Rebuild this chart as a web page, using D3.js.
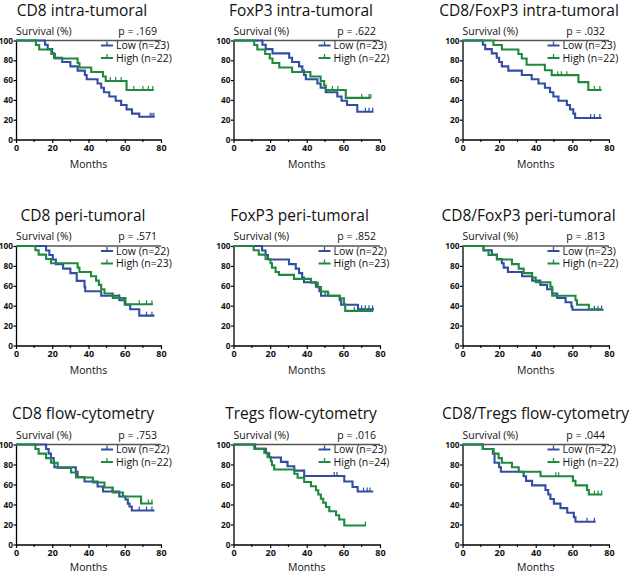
<!DOCTYPE html>
<html><head><meta charset="utf-8">
<script src="https://cdn.jsdelivr.net/npm/d3@7"></script>
<style>
body{margin:0;background:#fff}
svg{display:block}
text{font-family:"Open Sans",sans-serif;fill:#111}
</style>
</head><body>
<svg id="chart" width="633" height="574"></svg>
<script>
// ---------- data ----------
const titles = ["CD8 intra-tumoral","FoxP3 intra-tumoral","CD8/FoxP3 intra-tumoral",
  "CD8 peri-tumoral","FoxP3 peri-tumoral","CD8/FoxP3 peri-tumoral",
  "CD8 flow-cytometry","Tregs flow-cytometry","CD8/Tregs flow-cytometry"];
const pLabels = ["p = .169","p = .622","p = .032","p = .571","p = .852","p = .813","p = .753","p = .016","p = .044"];
const lowLabels = ["Low (n=23)","Low (n=23)","Low (n=23)","Low (n=22)","Low (n=22)","Low (n=23)","Low (n=22)","Low (n=23)","Low (n=22)"];
const highLabels = ["High (n=22)","High (n=22)","High (n=22)","High (n=23)","High (n=23)","High (n=22)","High (n=22)","High (n=24)","High (n=22)"];
const xTicks = [0,20,40,60,80];
const xMinorTicks = [10,30,50,70];
const yTicks = [0,20,40,60,80,100];
const yLabel = "Survival (%)";
const xLabel = "Months";

// steps: [month, survival % after event]
const cd8IntraLow = [[16,95.7],[17.5,91.3],[20,87],[21,82.6],[25.5,78.3],[30,73.9],[34,69.6],[38,65.2],[39,60.9],[45,56.5],[47,52.2],[48.5,47.8],[51.5,43.5],[55,39.1],[58,34.8],[61,30.4],[64,26.1],[68,23]];
const cd8IntraHigh = [[11,95.5],[12.8,90.9],[19.5,86.4],[21.5,81.8],[34,77.3],[35,72.7],[41.5,68.2],[48,63.6],[49.5,59.1],[61,50]];
const foxIntraLow = [[15.8,95.7],[17.6,91.3],[21.3,87],[30.4,82.6],[32,78.3],[35.8,73.9],[37.6,69.6],[38.5,65.2],[39.5,60.9],[45.8,56.5],[47.6,52.2],[50.4,47.8],[56.7,43.5],[59,39.1],[62,34.8],[67.6,28]];
const foxIntraHigh = [[11.3,95.5],[13,90.9],[17.3,86.4],[19.8,81.8],[21.3,77.3],[25,72.7],[32,68.2],[42,63.6],[47.6,59.1],[49.5,54.5],[50.4,50],[61.3,42]];
const ratioIntraLow = [[11.1,95.7],[12.4,91.3],[16,87],[18.7,82.6],[20,78.3],[21.5,73.9],[25,69.6],[32.4,65.2],[37.8,60.9],[41.5,56.5],[45,52.2],[47.8,47.8],[49.6,43.5],[52.4,39.1],[57,34.8],[58.7,30.4],[60.5,26.1],[61.5,21.7]];
const ratioIntraHigh = [[16.9,95.5],[21.5,90.9],[30.5,86.4],[32.4,81.8],[35,75.5],[45,70],[48.7,65],[63.3,58],[68.7,50]];
const cd8PeriLow = [[16.6,95.5],[18.4,90.9],[20.3,86.4],[22,81.8],[26,77.3],[30,72.7],[33.5,65],[37.8,59.1],[38.2,54.5],[47,50],[57,45.5],[60,40.9],[63,36.4],[68,30]];
const cd8PeriHigh = [[10.7,95.7],[12.5,91.3],[16.6,87],[19.3,82.6],[34,78.3],[35,73.9],[41.4,69.6],[44.2,65.2],[45.7,60.9],[47,56.5],[48.8,52.2],[53.4,47.8],[60.4,41.5]];
const foxPeriLow = [[15.6,95.5],[17.5,90.9],[18.8,86.4],[30.3,81.8],[34,77.3],[35.8,72.7],[37.5,68.2],[38.5,63.6],[45,59.1],[46.9,54.5],[47.8,50],[58,45.5],[58.8,40.9],[68,36.4]];
const foxPeriHigh = [[11,95.7],[13.8,91.3],[17.5,87],[20.2,82.6],[21,78.3],[23,73.9],[24.8,71],[33,67],[42.3,63],[46,58.7],[47.8,54.3],[51.5,50],[58,47.5],[60.3,41.3],[61,34.8]];
const ratioPeriLow = [[11.5,95.7],[16,91.3],[18.8,87],[21.5,82.6],[22.5,78.3],[24.8,73.9],[32.5,69.6],[38,65.2],[42.5,60.9],[46.2,56.5],[49,52.2],[51.7,47.8],[56.3,43.5],[59.5,39.1],[60,36]];
const ratioPeriHigh = [[11.5,95.5],[14.2,90.9],[18.8,86.4],[27,81.8],[30.7,77.3],[33.4,72.7],[38,68.2],[40,63.6],[48,59.1],[49,50],[61.7,45.5],[62.5,40.9],[69,36.4]];
const cd8FlowLow = [[16.6,95.5],[18,90.9],[19.3,86.4],[20.8,81.8],[21.2,77.3],[33,72.7],[34,67.5],[37.8,63],[45,58],[48,53],[57,48],[60.4,45],[61.7,40.9],[62.6,38],[63.9,34]];
const cd8FlowHigh = [[10.7,95.5],[12.5,90.9],[16.6,86.4],[19.3,81.8],[23,76.5],[30.4,72],[33.1,67],[42.4,62],[48.8,57],[53.4,52],[59,48],[69,41]];
const tregFlowLow = [[11.8,95.7],[17.7,91.3],[19.5,87],[25.9,82.6],[29.5,78.3],[33.2,73.9],[38.6,68.5],[60.5,63],[65,57.5],[67.8,53]];
const tregFlowHigh = [[11.3,95.8],[16.8,91.7],[18.6,87.5],[20.4,83.3],[21,79.2],[22.2,75],[33.2,70.8],[35,66.7],[38.6,62.5],[42.3,58.3],[45,54.2],[46.3,50],[47.7,45.8],[49,41.7],[50.5,37.5],[52.3,33.3],[56,29.2],[57.7,25],[60.5,19]];
const ratioFlowLow = [[11.1,95.5],[16.6,90.9],[17.5,81.8],[20,77.3],[21,72.7],[33.4,68.2],[34.7,63.6],[38,59.1],[45.3,54.5],[46.8,50],[48,45.5],[49.9,40.9],[53.5,36.4],[57.2,31.8],[60.8,27.3],[61.7,22.7]];
const ratioFlowHigh = [[11.1,95.5],[17,90.9],[19.7,86.4],[21.5,81.8],[27,77.3],[30.7,72.7],[42.6,68.2],[60.3,63.6],[61.7,59.1],[68,54.5],[69,50]];

// censored observations (months)
const lowCensors = [[74,75,76],[72,74,76],[70,72,75],[72,75],[50,52,70,72,74,76],[72,74,76],[53,68,72,75],[55,56.5,71,73,74.5],[68,72]];
const highCensors = [[52,55,58,65,70,73,75.5],[54,57,70,74,75],[52,54,57,72,75],[57,68,72,75],[66,72],[],[73,75],[72],[51,52.5,72,74,76]];
// follow-up end (months)
const lowEnd = [76.5,76.4,76,76.4,76.7,77,76.4,76.3,72.7];
const highEnd = [76,75,76,75.5,76.3,76,75.5,72.3,76.3];

const lowSeries = [cd8IntraLow,foxIntraLow,ratioIntraLow,cd8PeriLow,foxPeriLow,ratioPeriLow,cd8FlowLow,tregFlowLow,ratioFlowLow];
const highSeries = [cd8IntraHigh,foxIntraHigh,ratioIntraHigh,cd8PeriHigh,foxPeriHigh,ratioPeriHigh,cd8FlowHigh,tregFlowHigh,ratioFlowHigh];

// ---------- layout ----------
const colX0 = [16, 233.5, 462.5];
const colW = [145, 146.5, 146.5];
const rowTop = [40.5, 246, 444.5];
const rowBot = [139.5, 345.5, 544.5];
const titleX = [82, 301, 529, 83, 299.5, 528.5, 83, 301, 535.5];
const BLUE = "#324ea3", GREEN = "#1f8a3e";

const svg = d3.select("#chart");

function valueAt(ev, t){
  let v = 100;
  for (const e of ev){ if (e[0] <= t) v = e[1]; }
  return v;
}

for (let i = 0; i < 9; i++){
  const c = i % 3, r = Math.floor(i / 3);
  const x = d3.scaleLinear().domain([0,80]).range([colX0[c], colX0[c] + colW[c]]);
  const y = d3.scaleLinear().domain([0,100]).range([rowBot[r], rowTop[r]]);
  const g = svg.append("g");

  // title
  g.append("text").attr("x", titleX[i]).attr("y", Math.max(y(100) - 25.5, 16))
    .attr("text-anchor","middle").style("font-size","15.5px").text(titles[i]);
  // survival label & p
  g.append("text").attr("x", x(0)).attr("y", y(100) - 6)
    .style("font-size","10.5px").text(yLabel);
  g.append("text").attr("x", x(80) - 4).attr("y", y(100) - 6)
    .attr("text-anchor","end").style("font-size","10.5px").text(pLabels[i]);

  // top reference line
  g.append("line").attr("x1", x(0)).attr("x2", x(80)).attr("y1", y(100)).attr("y2", y(100))
    .attr("stroke","#555").attr("stroke-width",1.3);

  // y axis
  const ya = g.append("g").attr("transform",`translate(${x(0)},0)`)
    .call(d3.axisLeft(y).tickValues(yTicks).tickSize(2.5).tickPadding(0.5).tickSizeOuter(0));
  ya.select(".domain").attr("stroke","#000").attr("stroke-width",1.3);
  ya.selectAll(".tick line").attr("stroke","#000").attr("stroke-width",1.2);
  ya.selectAll(".tick text").style("font-size","8.3px").style("font-weight","bold")
    .style("font-family","'Open Sans',sans-serif").attr("fill","#111");

  // x axis
  const xa = g.append("g").attr("transform",`translate(0,${y(0)})`)
    .call(d3.axisBottom(x).tickValues(xTicks).tickSize(3.5).tickPadding(1.5).tickSizeOuter(0));
  xa.select(".domain").attr("stroke","#000").attr("stroke-width",1.3);
  xa.selectAll(".tick line").attr("stroke","#000").attr("stroke-width",1.2);
  xa.selectAll(".tick text").style("font-size","9px").style("font-weight","bold")
    .style("font-family","'Open Sans',sans-serif").attr("fill","#111");
  g.append("g").selectAll("line").data(xMinorTicks).join("line")
    .attr("x1", d => x(d)).attr("x2", d => x(d)).attr("y1", y(0)).attr("y2", y(0) + 2.5)
    .attr("stroke","#000").attr("stroke-width",1.1);

  g.append("text").attr("x", (x(0) + x(80)) / 2).attr("y", Math.min(y(0) + 28.5, 570.5))
    .attr("text-anchor","middle").style("font-size","10.5px").text(xLabel);

  // curves
  const line = d3.line().x(d => x(d[0])).y(d => y(d[1])).curve(d3.curveStepAfter);
  const series = [
    {ev: lowSeries[i], end: lowEnd[i], cens: lowCensors[i], color: BLUE},
    {ev: highSeries[i], end: highEnd[i], cens: highCensors[i], color: GREEN}
  ];
  series.forEach(s => {
    const pts = [[0,100], ...s.ev, [s.end, s.ev[s.ev.length-1][1]]];
    g.append("path").attr("d", line(pts)).attr("fill","none")
      .attr("stroke", s.color).attr("stroke-width",2.1);
    g.append("g").selectAll("line").data(s.cens).join("line")
      .attr("x1", d => x(d)).attr("x2", d => x(d))
      .attr("y1", d => y(valueAt(s.ev, d))).attr("y2", d => y(valueAt(s.ev, d)) - 4)
      .attr("stroke", s.color).attr("stroke-width",1.2);
  });

  // legend
  const leg = [{t: lowLabels[i], color: BLUE}, {t: highLabels[i], color: GREEN}];
  leg.forEach((l, k) => {
    const ly = y(100) + 5 + k * 12.5;
    g.append("line").attr("x1", x(0) + 85).attr("x2", x(0) + 97).attr("y1", ly).attr("y2", ly)
      .attr("stroke", l.color).attr("stroke-width",2);
    g.append("line").attr("x1", x(0) + 91).attr("x2", x(0) + 91).attr("y1", ly).attr("y2", ly - 4)
      .attr("stroke", l.color).attr("stroke-width",1.3);
    g.append("text").attr("x", x(0) + 100).attr("y", ly + 3.8)
      .style("font-size","10.5px").text(l.t);
  });
}
</script>
</body></html>
